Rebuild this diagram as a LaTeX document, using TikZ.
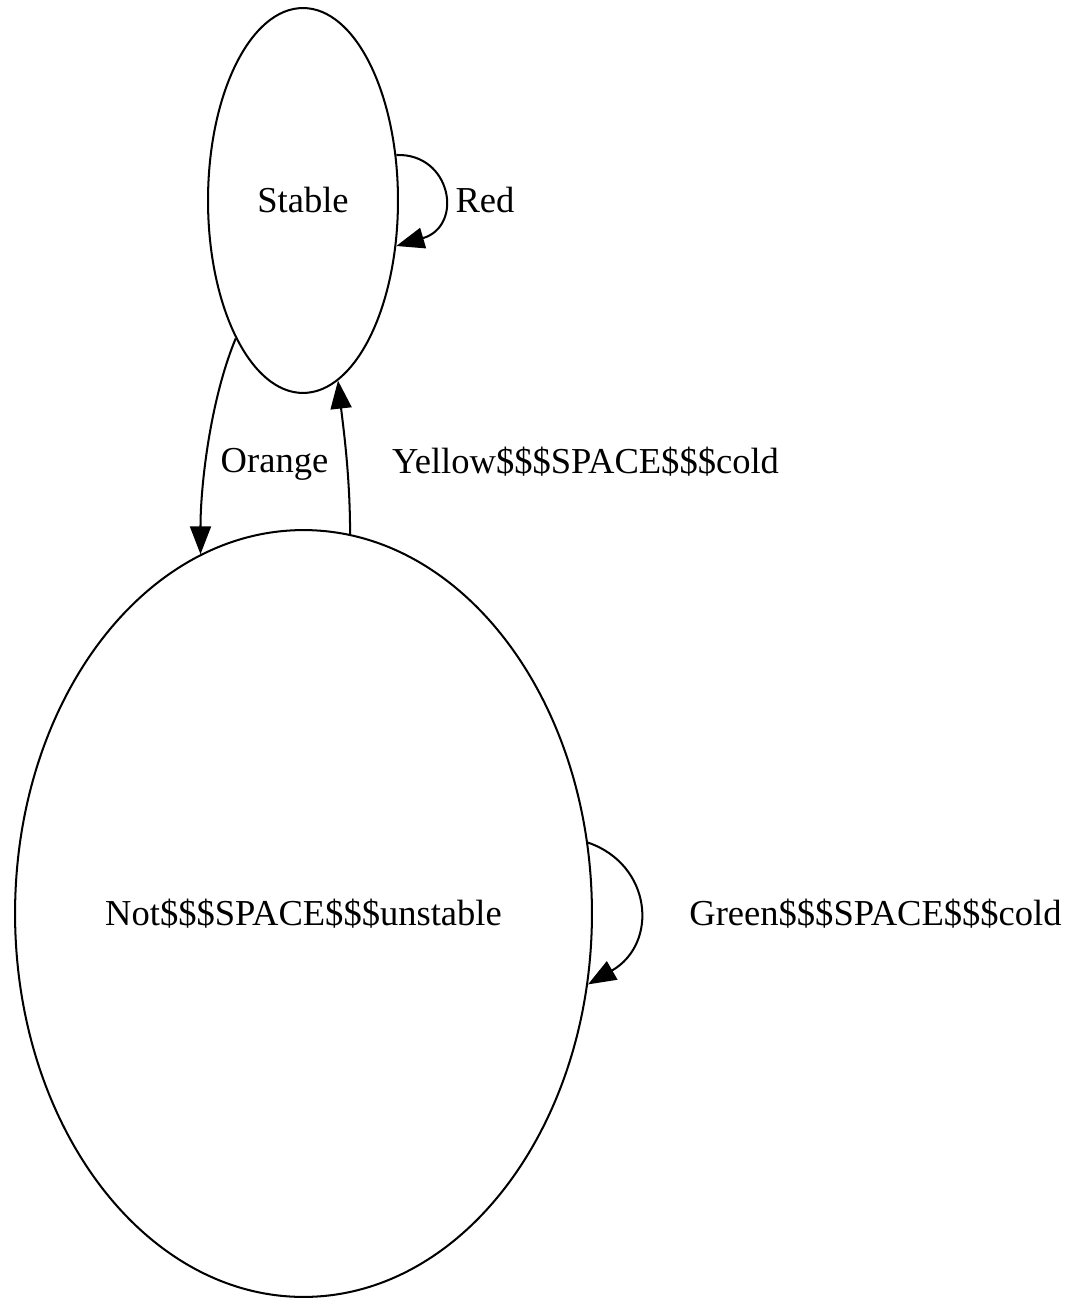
\documentclass[tikz,border=0pt]{standalone}
\usepackage{fontspec}
\setmainfont{Liberation Serif}
\usetikzlibrary{arrows.meta,shapes.geometric}
\tikzset{
  state/.style ={draw,ellipse,line width=1.15pt,inner sep=0pt},
  lbl/.style   ={font=\fontsize{20.8}{25}\selectfont,inner sep=0pt},
  arr/.style   ={-{Triangle[length=0.56cm,width=0.42cm]},line width=1.15pt},
}

\begin{document}
\begin{tikzpicture}[x=0.02cm,y=-0.02cm]
 \useasboundingbox (0,0) rectangle (1084,1300);
 % states
 \node[state,lbl,minimum width=3.8cm,minimum height=7.7cm] (stable) at (303,200.5) {Stable};
 \node[state,lbl,minimum width=11.54cm,minimum height=15.34cm] (notun) at (303.5,913.5) {Not\$\$\$SPACE\$\$\$unstable};
 % transitions
 \draw[arr] (stable.26) .. controls +(55,-2) and +(68,-20) .. (stable.-26);
 \node[lbl] (red) at (485,200) {Red};
 \draw[arr] (stable.244) .. controls +(-25,60) and +(0,-70) .. (notun.106);
 \node[lbl] (orange) at (274.5,464) {Orange};
 \draw[arr] (notun.83) .. controls +(0,-60) and +(5,45) .. (stable.-79);
 \node[lbl] (yellow) at (585.5,462) {Yellow\$\$\$SPACE\$\$\$cold};
 \draw[arr] (notun.14) .. controls +(64,22) and +(71,-41) .. (notun.-14);
 \node[lbl] (green) at (875.5,914) {Green\$\$\$SPACE\$\$\$cold};
\end{tikzpicture}
\end{document}
